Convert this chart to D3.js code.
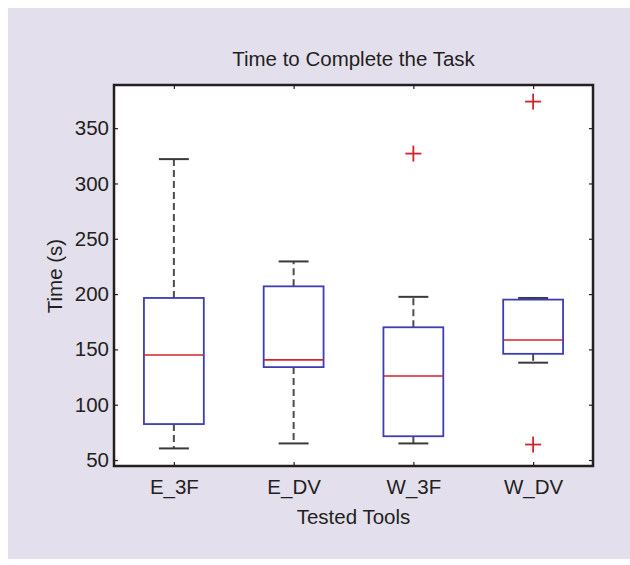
<!DOCTYPE html>
<html>
<head>
<meta charset="utf-8">
<script src="https://cdn.jsdelivr.net/npm/d3@7"></script>
<style>
  body { margin: 0; background: #fff; }
  text { font-family: "Liberation Sans", Arial, sans-serif; fill: #231f20; }
</style>
</head>
<body>
<script>
'use strict';

// données
const tools = ["E_3F", "E_DV", "W_3F", "W_DV"];
const whiskerLow  = [60.5, 65, 65, 138];
const q1          = [82.5, 134, 71.5, 146];
const median      = [145, 140.5, 126, 158.5];
const q3          = [196.5, 207, 170, 195];
const whiskerHigh = [322, 229.5, 197.5, 196.5];
const outliers    = [[], [], [327], [374, 64]];
const yTicks = [50, 100, 150, 200, 250, 300, 350];

const W = 630, H = 565;
const svg = d3.select("body").append("svg")
  .attr("width", W)
  .attr("height", H);

// fond lavande
svg.append("rect")
  .attr("x", 8).attr("y", 8)
  .attr("width", W - 8).attr("height", H - 14)
  .style("fill", "#e4dfec");

const pLeft = 114, pRight = 593, pTop = 85, pBottom = 466;

const x = d3.scaleLinear().domain([0.5, 4.5]).range([pLeft, pRight]);
const y = d3.scaleLinear().domain([44.6, 389]).range([pBottom, pTop]);

// zone du tracé
svg.append("rect")
  .attr("x", pLeft).attr("y", pTop)
  .attr("width", pRight - pLeft).attr("height", pBottom - pTop)
  .style("fill", "#fff");

const boxes = tools.map((t, i) => ({
  t: t, pos: i + 1,
  lo: whiskerLow[i], q1: q1[i], med: median[i], q3: q3[i], hi: whiskerHigh[i],
  out: outliers[i]
}));

const g = svg.append("g");
const halfBox = x(1.25) - x(1);
const halfCap = x(1.125) - x(1);

// moustaches en pointillés
g.selectAll(".wUp").data(boxes).enter().append("line")
  .attr("x1", d => x(d.pos)).attr("x2", d => x(d.pos))
  .attr("y1", d => y(d.q3)).attr("y2", d => y(d.hi))
  .style("stroke", "#4d4d4d").style("stroke-width", 2).style("stroke-dasharray", "7,4");
g.selectAll(".wLo").data(boxes).enter().append("line")
  .attr("x1", d => x(d.pos)).attr("x2", d => x(d.pos))
  .attr("y1", d => y(d.q1)).attr("y2", d => y(d.lo))
  .style("stroke", "#4d4d4d").style("stroke-width", 2).style("stroke-dasharray", "7,4");

// extrémités
["hi", "lo"].forEach(k => {
  g.selectAll(".cap-" + k).data(boxes).enter().append("line")
    .attr("x1", d => x(d.pos) - halfCap).attr("x2", d => x(d.pos) + halfCap)
    .attr("y1", d => y(d[k])).attr("y2", d => y(d[k]))
    .style("stroke", "#3a3a3a").style("stroke-width", 2);
});

// boîtes
g.selectAll(".box").data(boxes).enter().append("rect")
  .attr("x", d => x(d.pos) - halfBox)
  .attr("y", d => y(d.q3))
  .attr("width", 2 * halfBox)
  .attr("height", d => y(d.q1) - y(d.q3))
  .style("fill", "none").style("stroke", "#3d3db4").style("stroke-width", 1.8);

// médianes
g.selectAll(".med").data(boxes).enter().append("line")
  .attr("x1", d => x(d.pos) - halfBox).attr("x2", d => x(d.pos) + halfBox)
  .attr("y1", d => y(d.med)).attr("y2", d => y(d.med))
  .style("stroke", "#d2232a").style("stroke-width", 1.6);

// valeurs aberrantes
const outPts = boxes.flatMap(d => d.out.map(v => ({pos: d.pos, v: v})));
const plus = g.selectAll(".out").data(outPts).enter().append("g")
  .attr("transform", d => `translate(${x(d.pos)},${y(d.v)})`);
plus.append("line").attr("x1", -8).attr("x2", 8)
  .style("stroke", "#d2232a").style("stroke-width", 1.8);
plus.append("line").attr("y1", -8).attr("y2", 8)
  .style("stroke", "#d2232a").style("stroke-width", 1.8);

// axes (ticks vers l'intérieur, sur les 4 côtés)
const tickFmt = d => tools[d - 1];
const axB = svg.append("g").attr("transform", `translate(0,${pBottom})`)
  .call(d3.axisBottom(x).tickValues([1, 2, 3, 4]).tickFormat(tickFmt).tickSizeInner(-4).tickSizeOuter(0).tickPadding(13));
const axT = svg.append("g").attr("transform", `translate(0,${pTop})`)
  .call(d3.axisTop(x).tickValues([1, 2, 3, 4]).tickFormat("").tickSizeInner(-4).tickSizeOuter(0));
const axL = svg.append("g").attr("transform", `translate(${pLeft},0)`)
  .call(d3.axisLeft(y).tickValues(yTicks).tickSizeInner(-4).tickSizeOuter(0).tickPadding(5));
const axR = svg.append("g").attr("transform", `translate(${pRight},0)`)
  .call(d3.axisRight(y).tickValues(yTicks).tickFormat("").tickSizeInner(-4).tickSizeOuter(0));

[axB, axT, axL, axR].forEach(a => {
  a.select(".domain").remove();
  a.selectAll(".tick line").style("stroke", "#231f20").style("stroke-width", 1.2);
  a.selectAll("text").style("font-size", "20.5px")
    .style("font-family", '"Liberation Sans", Arial, sans-serif').style("fill", "#231f20");
});

// cadre
svg.append("rect")
  .attr("x", pLeft).attr("y", pTop)
  .attr("width", pRight - pLeft).attr("height", pBottom - pTop)
  .style("fill", "none").style("stroke", "#231f20").style("stroke-width", 2.5);

// titres
svg.append("text")
  .attr("x", (pLeft + pRight) / 2).attr("y", 66)
  .attr("text-anchor", "middle").style("font-size", "20.5px")
  .text("Time to Complete the Task");
svg.append("text")
  .attr("x", (pLeft + pRight) / 2).attr("y", 524)
  .attr("text-anchor", "middle").style("font-size", "20.5px")
  .text("Tested Tools");
svg.append("text")
  .attr("transform", `translate(62,276) rotate(-90)`)
  .attr("text-anchor", "middle").style("font-size", "20.5px")
  .text("Time (s)");
</script>
</body>
</html>
